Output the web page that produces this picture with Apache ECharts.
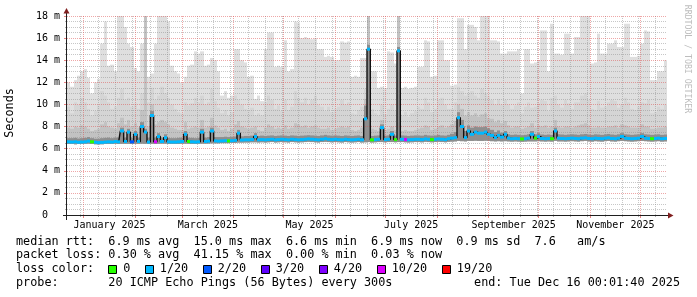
<!DOCTYPE html>
<html><head><meta charset="utf-8">
<script src="https://cdn.jsdelivr.net/npm/echarts@6/dist/echarts.min.js"></script>
<style>html,body{margin:0;padding:0;background:#fff}#c{width:697px;height:297px}</style>
</head><body><div id="c"></div>
<script>
// ---------- time frame ----------
const startDate = '2024-12-22';            // first day on the x axis
const colDays = 2;                          // each data column = 2 days
const xTickLabels = ['January 2025','March 2025','May 2025','July 2025','September 2025','November 2025'];
const xTickMonths = ['2025-01-01','2025-03-01','2025-05-01','2025-07-01','2025-09-01','2025-11-01'];
const monthStarts = ['2025-01-01','2025-02-01','2025-03-01','2025-04-01','2025-05-01','2025-06-01','2025-07-01','2025-08-01','2025-09-01','2025-10-01','2025-11-01','2025-12-01'];
const minorGridDaysOfMonth = [10, 20, 30];
const yTickValues = [0,2,4,6,8,10,12,14,16,18];

// ---------- smoke (ms) ----------
const smokeMax = [
12.0,11.6,12.2,12.6,13.0,13.2,12.4,11.0,12.0,12.3,
15.5,17.5,13.5,13.6,13.0,18.0,18.0,17.0,15.5,15.2,
13.3,13.0,15.5,18.0,12.5,12.8,15.5,18.0,18.0,18.0,
17.5,13.5,13.0,12.8,12.0,12.5,13.5,13.6,14.8,14.6,
14.8,13.5,13.6,14.2,14.0,13.0,10.8,11.2,10.6,10.8,
15.0,15.0,14.0,13.8,12.5,12.6,10.5,10.8,10.3,15.0,
16.5,16.5,13.4,13.5,13.4,15.8,13.0,13.2,17.5,17.4,
16.0,16.1,16.0,15.9,16.0,15.0,15.0,14.3,14.4,14.3,
14.0,14.0,15.7,15.6,15.7,12.5,12.6,12.5,14.2,14.2,
18.0,13.0,13.0,11.5,11.6,11.5,14.8,14.7,13.7,18.0,
11.5,11.6,11.4,11.5,11.6,13.4,13.4,15.8,15.7,12.5,
12.6,15.8,15.8,14.0,14.0,11.7,11.8,17.8,17.8,15.0,
17.2,17.2,17.0,15.8,18.0,18.0,18.0,15.8,15.8,15.7,
14.6,14.6,14.8,14.8,14.8,15.0,11.0,15.0,15.0,13.7,
13.8,14.0,16.7,16.7,13.0,17.3,14.6,14.6,14.5,16.4,
16.4,14.6,16.1,16.1,18.0,18.0,18.0,13.7,13.8,16.4,
14.6,14.6,15.5,15.5,15.8,15.2,15.2,17.3,17.3,14.3,
14.3,14.4,15.5,16.7,16.6,12.2,12.2,13.0,13.0,14.0];
const smokeUpper = [
9.8,9.2,10.2,10.0,10.6,10.2,9.6,9.0,9.4,9.9,
11.2,10.8,10.2,9.6,9.8,10.6,11.4,10.4,10.6,9.8,
10.1,9.6,11.0,18.0,10.2,11.5,10.4,10.8,11.6,11.0,
10.6,10.0,9.6,9.3,9.2,10.2,9.9,10.1,10.6,10.2,
10.8,10.0,10.2,11.4,10.3,9.7,9.2,9.5,9.0,9.3,
10.8,10.4,10.0,9.6,9.4,9.7,9.0,9.2,9.0,10.2,
10.8,10.4,9.6,9.9,9.4,10.4,9.5,9.8,11.2,10.6,
10.2,10.6,10.0,10.4,10.8,10.0,9.8,9.4,9.8,9.3,
9.6,9.8,10.4,10.0,10.2,9.2,9.1,9.5,9.8,11.4,
18.0,9.6,9.2,9.0,10.0,9.1,9.6,10.0,9.4,18.0,
9.0,9.3,8.9,9.2,9.4,9.8,9.6,10.6,10.2,9.3,
9.6,10.4,10.6,10.0,9.6,9.6,10.2,11.6,11.2,10.8,
11.0,11.2,10.8,10.6,11.4,11.0,10.8,10.4,10.0,10.5,
10.0,10.4,10.0,9.6,9.9,10.2,9.2,9.8,10.2,9.7,
9.8,10.1,10.4,10.3,9.4,10.6,10.8,10.0,9.7,10.4,
10.1,9.6,10.2,10.2,10.8,11.0,10.4,9.6,9.5,10.3,
9.7,9.8,10.2,10.4,10.3,9.7,10.0,10.6,10.2,9.6,
9.5,9.8,10.2,10.1,10.4,9.2,9.3,9.8,9.6,10.0];
const smokeMid = [
7.9,7.8,8.0,7.9,8.1,8.0,7.8,7.6,7.7,7.8,
8.2,8.4,8.0,7.9,7.8,8.3,8.8,8.2,8.6,8.0,
8.3,7.9,9.5,18.0,8.0,10.0,8.2,8.4,8.6,8.4,
8.2,7.9,7.8,7.7,7.7,8.4,7.8,7.9,8.0,7.9,
8.6,7.9,8.0,8.8,8.1,7.9,7.7,7.8,7.6,7.8,
8.2,8.5,8.0,7.9,7.8,7.9,8.0,7.7,7.6,7.9,
8.2,8.0,7.8,7.9,7.8,8.1,7.8,7.9,8.3,8.2,
8.0,8.1,7.9,8.0,8.1,7.9,7.8,7.8,7.9,7.7,
7.8,7.9,8.0,7.9,8.0,7.7,7.6,7.7,7.9,10.5,
18.0,7.8,7.7,7.6,8.6,7.7,7.8,8.0,7.7,18.0,
7.6,7.7,7.6,7.6,7.7,7.8,7.9,8.1,8.0,7.7,
7.8,8.0,8.1,7.9,8.0,8.2,8.5,10.0,9.6,9.0,
9.3,9.0,9.2,8.9,9.1,9.2,8.8,8.7,8.4,8.6,
8.3,8.5,8.1,7.9,8.0,8.0,7.8,7.9,8.0,8.3,
7.9,8.1,8.0,8.1,7.9,8.0,8.6,8.0,7.9,8.0,
8.0,7.9,8.0,8.1,8.2,8.3,8.1,7.9,7.9,8.0,
7.9,7.9,8.0,8.0,8.1,7.9,8.2,8.1,8.0,7.9,
7.9,7.9,8.2,8.0,8.0,7.8,7.8,7.9,7.9,8.0];
const smokeCore = [
6.95,6.95,6.98,6.92,6.95,6.98,7.05,6.95,6.9,6.9,
6.95,6.98,7.0,6.95,7.0,7.0,7.9,7.0,7.8,7.0,
7.6,7.0,8.4,7.8,7.0,9.4,7.0,7.4,7.0,7.3,
6.98,6.95,6.95,6.98,7.0,7.6,7.0,6.98,6.95,6.98,
7.8,7.0,7.05,7.9,7.05,7.05,7.05,7.08,7.05,7.08,
7.1,7.7,7.12,7.15,7.15,7.18,7.4,7.15,7.18,7.15,
7.18,7.2,7.15,7.18,7.2,7.18,7.15,7.2,7.18,7.15,
7.18,7.2,7.22,7.2,7.18,7.15,7.2,7.25,7.2,7.18,
7.2,7.18,7.15,7.2,7.18,7.15,7.18,7.2,7.15,9.9,
15.4,7.15,7.18,7.2,8.2,7.18,7.2,7.6,7.18,15.2,
7.2,7.18,7.15,7.18,7.2,7.2,7.18,7.25,7.2,7.18,
7.2,7.25,7.2,7.18,7.25,7.35,7.5,9.3,8.6,7.6,
8.1,7.9,8.0,7.95,7.95,8.0,7.85,7.7,7.5,7.65,
7.45,7.6,7.3,7.25,7.28,7.25,7.22,7.25,7.3,7.6,
7.3,7.4,7.28,7.25,7.28,7.25,7.9,7.3,7.28,7.25,
7.28,7.3,7.28,7.25,7.3,7.33,7.28,7.25,7.3,7.28,
7.25,7.3,7.33,7.28,7.25,7.3,7.4,7.3,7.28,7.25,
7.28,7.3,7.4,7.3,7.28,7.25,7.28,7.3,7.25,7.28];
const smokeMin = [
6.42,6.42,6.4,6.42,6.42,6.44,6.45,6.42,6.4,6.38,
6.4,6.42,6.42,6.42,6.44,6.42,6.44,6.44,6.44,6.42,
6.44,6.44,6.45,6.44,6.42,6.44,6.42,6.44,6.45,6.45,
6.42,6.42,6.42,6.42,6.44,6.45,6.44,6.42,6.42,6.44,
6.45,6.45,6.46,6.48,6.48,6.48,6.5,6.5,6.5,6.52,
6.52,6.55,6.55,6.56,6.56,6.58,6.58,6.56,6.58,6.56,
6.58,6.6,6.56,6.58,6.6,6.58,6.56,6.6,6.58,6.56,
6.58,6.6,6.62,6.6,6.58,6.56,6.6,6.62,6.6,6.58,
6.6,6.58,6.56,6.6,6.58,6.56,6.58,6.6,6.56,6.58,
6.6,6.56,6.58,6.6,6.6,6.58,6.6,6.6,6.58,6.6,
6.6,6.58,6.56,6.58,6.6,6.6,6.58,6.62,6.6,6.58,
6.6,6.62,6.6,6.58,6.62,6.64,6.66,6.7,6.68,6.66,
6.7,6.7,6.72,6.7,6.7,6.72,6.7,6.68,6.66,6.68,
6.66,6.68,6.66,6.64,6.66,6.64,6.62,6.64,6.66,6.66,
6.66,6.68,6.66,6.64,6.66,6.64,6.7,6.66,6.66,6.64,
6.66,6.68,6.66,6.64,6.68,6.7,6.66,6.64,6.68,6.66,
6.64,6.68,6.7,6.66,6.64,6.68,6.7,6.68,6.66,6.64,
6.66,6.68,6.7,6.68,6.66,6.64,6.66,6.68,6.64,6.66];

// ---------- median rtt (ms) and loss (pings lost of 20) ----------
const medianRtt = [
6.62,6.6,6.62,6.58,6.6,6.62,6.68,6.62,6.58,6.55,
6.57,6.6,6.62,6.6,6.65,6.62,7.6,6.65,7.5,6.62,
7.3,6.65,8.0,7.5,6.6,9.0,6.62,7.1,6.65,7.0,
6.62,6.6,6.6,6.62,6.65,7.3,6.65,6.62,6.6,6.62,
7.5,6.65,6.68,7.6,6.7,6.68,6.7,6.72,6.7,6.72,
6.75,7.4,6.78,6.8,6.8,6.82,7.1,6.8,6.82,6.8,
6.82,6.85,6.8,6.82,6.85,6.82,6.8,6.85,6.82,6.8,
6.82,6.85,6.88,6.85,6.82,6.8,6.85,6.9,6.85,6.82,
6.85,6.82,6.8,6.85,6.82,6.8,6.82,6.85,6.8,8.7,
15.0,6.8,6.82,6.85,7.9,6.82,6.85,7.3,6.82,14.85,
6.85,6.82,6.8,6.82,6.85,6.85,6.82,6.88,6.85,6.82,
6.85,6.88,6.85,6.82,6.9,6.95,7.0,8.8,8.0,7.0,
7.6,7.3,7.5,7.4,7.4,7.5,7.3,7.2,7.0,7.2,
7.05,7.3,6.95,6.9,6.92,6.9,6.88,6.9,6.95,7.3,
6.95,7.1,6.92,6.9,6.92,6.9,7.6,6.95,6.92,6.9,
6.92,6.95,6.92,6.9,6.95,6.98,6.92,6.9,6.95,6.92,
6.9,6.95,6.98,6.92,6.9,6.95,7.1,6.95,6.92,6.9,
6.92,6.95,7.1,6.95,6.92,6.9,6.92,6.95,6.9,6.92];
const lostPings = [
1,1,1,1,1,1,1,0,1,1, 1,1,1,1,1,1,1,1,1,2,
1,1,1,1,1,1,10,1,1,1, 1,1,1,1,1,1,0,1,1,1,
1,1,1,1,1,1,1,1,0,1, 1,1,1,1,1,1,1,1,1,1,
1,1,1,1,1,1,1,1,1,1, 1,1,1,1,1,1,1,1,1,1,
1,1,1,1,1,1,1,1,1,1, 1,0,1,1,1,1,1,1,0,1,
1,10,1,1,1,1,1,1,1,0, 1,1,1,1,1,1,1,1,1,1,
1,1,1,1,1,1,1,1,1,1, 1,1,1,1,1,1,0,1,1,1,
0,1,1,1,1,0,1,1,1,1, 1,1,1,1,1,1,1,1,1,1,
1,1,1,1,1,1,1,1,1,1, 1,1,1,1,1,0,1,1,1,1];

// ---------- legend ----------
const lossLabels = ['0','1/20','2/20','3/20','4/20','10/20','19/20'];
const lossValues = [0,1,2,3,4,10,19];
const lossColors = ['#26ff00','#00b8ff','#0059ff','#5e00ff','#7e00ff','#dd00ff','#ff0000'];
const statLines = [
  'median rtt:  6.9 ms avg  15.0 ms max  6.6 ms min  6.9 ms now  0.9 ms sd  7.6   am/s',
  'packet loss: 0.30 % avg  41.15 % max  0.00 % min  0.03 % now'
];
const probeLine = 'probe:       20 ICMP Echo Pings (56 Bytes) every 300s';
const endLine = 'end: Tue Dec 16 00:01:40 2025';

// ---------- build ----------
const DAYMS = 86400000, HALF = 2;
const t0 = Date.parse(startDate + 'T00:00:00Z');
const dayOf = s => Math.round((Date.parse(s + 'T00:00:00Z') - t0) / DAYMS);
const nCols = smokeMax.length;
const nCat = nCols * colDays * HALF + 1;
const cats = Array.from({length: nCat}, (_, k) => String(k));
const majorIdx = new Set(monthStarts.map(s => dayOf(s) * HALF));
const labelIdx = {};
xTickMonths.forEach((m, i) => {
  const j = monthStarts.indexOf(m);
  const a = dayOf(m), b = dayOf(monthStarts[j + 1]);
  labelIdx[a + b] = xTickLabels[i];
});
const minorIdx = new Set();
for (let d = 0; d * HALF < nCat; d++) {
  const dt = new Date(t0 + d * DAYMS);
  if (minorGridDaysOfMonth.includes(dt.getUTCDate())) minorIdx.add(d * HALF);
}

const colorOf = v => lossColors[lossValues.indexOf(v)] || '#00b8ff';
const mono = '"DejaVu Sans Mono", monospace';

function band(tops, bottoms, color, z) {
  const data = tops.map((t, i) => [i * colDays * HALF, (i + 1) * colDays * HALF, bottoms[i], t]);
  return {
    type: 'custom', xAxisIndex: 2, yAxisIndex: 0, z: z, silent: true, clip: true,
    encode: {x: [0, 1], y: [2, 3]}, data: data,
    renderItem: function (params, api) {
      const a = api.coord([api.value(0), api.value(3)]);
      const b = api.coord([api.value(1), api.value(2)]);
      const x0 = Math.round(a[0]), x1 = Math.round(b[0]);
      return {type: 'rect', shape: {x: x0, y: a[1], width: x1 - x0, height: b[1] - a[1]}, style: {fill: color}};
    }
  };
}

const medData = medianRtt.map((m, i) => [i * colDays * HALF, (i + 1) * colDays * HALF, m, lostPings[i]]);
const series = [
  band(smokeMax, smokeMin, '#dfdfdf', 1),
  band(smokeUpper, smokeMin, '#d5d5d5', 1),
  band(smokeMid, smokeMin, '#c2c2c2', 1),
  band(smokeCore, smokeMin, '#8e8e8e', 1),
  {
    type: 'line', xAxisIndex: 2, yAxisIndex: 0, z: 5, silent: true, symbol: 'none', step: 'middle',
    lineStyle: {color: '#111', width: 1.4},
    data: medianRtt.map((m, i) => [(i + 0.5) * colDays * HALF, m])
  },
  {
    type: 'custom', xAxisIndex: 2, yAxisIndex: 0, z: 6, silent: true,
    encode: {x: [0, 1], y: 2}, data: medData,
    renderItem: function (params, api) {
      const a = api.coord([api.value(0), api.value(2)]);
      const b = api.coord([api.value(1), api.value(2)]);
      const x0 = Math.round(a[0]), x1 = Math.round(b[0]);
      return {type: 'rect', shape: {x: x0, y: a[1] - 1.5, width: x1 - x0, height: 3}, style: {fill: colorOf(api.value(3))}};
    }
  }
];

const majorStyle = {color: 'rgba(222,79,79,0.5)', width: 1, type: [1, 1]};
const minorStyle = {color: 'rgba(143,143,143,0.5)', width: 1, type: [1, 1]};
const graphic = [];
// axis lines with arrows
graphic.push({type: 'line', shape: {x1: 63, y1: 215.5, x2: 669, y2: 215.5}, style: {stroke: '#1f1f1f', lineWidth: 1}, z: 20});
graphic.push({type: 'polygon', shape: {points: [[668, 212.5], [673.5, 215.5], [668, 218.5]]}, style: {fill: '#801f1f'}, z: 20});
graphic.push({type: 'line', shape: {x1: 66.5, y1: 220, x2: 66.5, y2: 12}, style: {stroke: '#1f1f1f', lineWidth: 1}, z: 20});
graphic.push({type: 'polygon', shape: {points: [[63.5, 13.5], [66.5, 8], [69.5, 13.5]]}, style: {fill: '#801f1f'}, z: 20});
// y title and watermark
graphic.push({type: 'text', x: 10, y: 113, rotation: Math.PI / 2,
  style: {text: 'Seconds', font: '11.8px ' + mono, fill: '#000', align: 'center', verticalAlign: 'middle'}});
graphic.push({type: 'text', x: 687, y: 59, rotation: -Math.PI / 2,
  style: {text: 'RRDTOOL / TOBI OETIKER', font: '8.2px ' + mono, fill: '#bdbdbd', align: 'center', verticalAlign: 'middle'}});
// statistics
const lineY = [241.7, 255, 269.3, 283.3];
statLines.forEach((t, i) => graphic.push({type: 'text', x: 16, y: lineY[i],
  style: {text: t, font: '11.8px ' + mono, fill: '#000', verticalAlign: 'middle'}}));
graphic.push({type: 'text', x: 16, y: lineY[2], style: {text: 'loss color:', font: '11.8px ' + mono, fill: '#000', verticalAlign: 'middle'}});
const cw = 7.12;
let bx = 16 + 13 * cw - 0.4;
lossLabels.forEach((lab, i) => {
  graphic.push({type: 'rect', shape: {x: Math.round(bx) + 0.5, y: 265.5, width: 8, height: 8},
    style: {fill: lossColors[i], stroke: '#000', lineWidth: 1}});
  graphic.push({type: 'text', x: bx + 15, y: lineY[2], style: {text: lab, font: '11.8px ' + mono, fill: '#000', verticalAlign: 'middle'}});
  bx = bx + 15 + lab.length * cw + 14.5;
});
graphic.push({type: 'text', x: 16, y: lineY[3], style: {text: probeLine, font: '11.8px ' + mono, fill: '#000', verticalAlign: 'middle'}});
graphic.push({type: 'text', x: 680, y: lineY[3], style: {text: endLine, font: '11.8px ' + mono, fill: '#000', align: 'right', verticalAlign: 'middle'}});

const chart = echarts.init(document.getElementById('c'), null, {renderer: 'canvas'});
chart.setOption({
  animation: false,
  backgroundColor: '#ffffff',
  grid: {left: 67, right: 30, top: 16, bottom: 82},
  xAxis: [
    {type: 'category', data: cats, boundaryGap: false, position: 'bottom', z: 4,
     axisLine: {show: false},
     axisTick: {show: true, length: 3, interval: (idx) => majorIdx.has(idx), lineStyle: {color: 'rgba(222,79,79,0.7)'}},
     axisLabel: {interval: (idx) => labelIdx[idx] !== undefined, formatter: (v, idx) => labelIdx[idx] || '',
       fontFamily: mono, fontSize: 10, color: '#000', margin: 5},
     splitLine: {show: true, interval: (idx) => majorIdx.has(idx), lineStyle: majorStyle}},
    {type: 'category', data: cats, boundaryGap: false, position: 'bottom', z: 3,
     axisLine: {show: false},
     axisTick: {show: true, length: 2, interval: (idx) => minorIdx.has(idx) && !majorIdx.has(idx), lineStyle: {color: 'rgba(143,143,143,0.7)'}},
     axisLabel: {show: false},
     splitLine: {show: true, interval: (idx) => minorIdx.has(idx) && !majorIdx.has(idx), lineStyle: minorStyle}},
    {type: 'value', min: 0, max: nCat - 1, show: false}
  ],
  yAxis: [{
    type: 'value', min: 0, max: 18, interval: 2, z: 4,
    axisLine: {show: false},
    axisTick: {show: true, length: 3, lineStyle: {color: 'rgba(222,79,79,0.7)'}},
    axisLabel: {formatter: v => yTickValues.includes(v) ? (v === 0 ? '0  ' : v + ' m') : '', fontFamily: mono, fontSize: 10, color: '#000', margin: 7},
    splitLine: {show: true, lineStyle: majorStyle},
    minorTick: {show: true, splitNumber: 4, length: 2, lineStyle: {color: 'rgba(143,143,143,0.7)'}},
    minorSplitLine: {show: true, lineStyle: minorStyle}
  }],
  series: series,
  graphic: graphic
});
</script></body></html>
